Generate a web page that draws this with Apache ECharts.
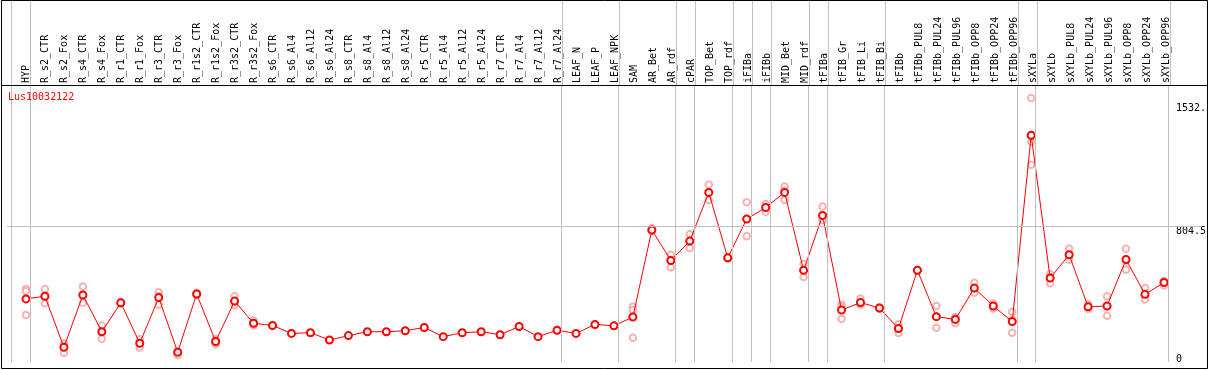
<!DOCTYPE html>
<html><head><meta charset="utf-8">
<script src="https://cdn.jsdelivr.net/npm/echarts@6/dist/echarts.min.js"></script>
<style>html,body{margin:0;padding:0;background:#fff}#c{width:1209px;height:370px}</style>
</head><body><div id="c"></div>
<script>
const geneName = 'Lus10032122';
const categories = ['HYP','R_s2_CTR','R_s2_Fox','R_s4_CTR','R_s4_Fox','R_r1_CTR','R_r1_Fox','R_r3_CTR','R_r3_Fox','R_r1s2_CTR','R_r1s2_Fox','R_r3s2_CTR','R_r3s2_Fox','R_s6_CTR','R_s6_Al4','R_s6_Al12','R_s6_Al24','R_s8_CTR','R_s8_Al4','R_s8_Al12','R_s8_Al24','R_r5_CTR','R_r5_Al4','R_r5_Al12','R_r5_Al24','R_r7_CTR','R_r7_Al4','R_r7_Al12','R_r7_Al24','LEAF_N','LEAF_P','LEAF_NPK','SAM','AR_Bet','AR_rdf','cPAR','TOP_Bet','TOP_rdf','iFIBa','iFIBb','MID_Bet','MID_rdf','tFIBa','tFIB_Gr','tFIB_Li','tFIB_Bi','tFIBb','tFIBb_PUL8','tFIBb_PUL24','tFIBb_PUL96','tFIBb_OPP8','tFIBb_OPP24','tFIBb_OPP96','sXYLa','sXYLb','sXYLb_PUL8','sXYLb_PUL24','sXYLb_PUL96','sXYLb_OPP8','sXYLb_OPP24','sXYLb_OPP96'];
const meanValues = [373,389,87,396,179,350,111,381,58,402,121,360,229,216,169,173,130,156,179,179,185,204,150,173,179,161,210,150,188,169,222,214,266,781,600,715,1003,616,845,913,1003,542,867,307,352,319,198,542,268,252,437,331,239,1341,496,634,326,331,606,400,470];
const N = null;
const rep1 = [433,431,111,447,216,355,134,412,62,410,136,389,245,N,N,N,N,N,N,N,N,N,N,N,N,N,N,N,N,N,N,N,326,793,634,756,1049,620,944,934,1038,579,919,338,375,322,223,546,331,264,468,346,296,1561,521,670,340,389,670,437,478];
const rep2 = [420,389,95,396,181,350,112,392,45,398,121,357,226,N,N,N,N,N,N,N,N,N,N,N,N,N,N,N,N,N,N,N,307,776,605,715,1003,616,847,917,1013,544,844,328,343,320,200,542,271,263,433,330,248,1302,502,627,325,330,602,394,479];
const rep3 = [278,348,54,350,138,345,86,338,41,398,105,334,216,N,N,N,N,N,N,N,N,N,N,N,N,N,N,N,N,N,N,N,144,774,561,674,958,612,744,888,958,503,838,255,338,315,171,538,202,229,410,317,173,1166,465,605,313,274,546,369,453];
// group separators are drawn just after these category indices
const groupEnds = [-1,0,28,31,34,35,37,38,39,41,42,45,52,53,60];
const yTickValues = [0, 804.5, 1532];
const yTickLabels = ['0', '804.5', '1532.'];

const FONT = "'DejaVu Sans Mono', monospace";
const X_MIN = -1, X_MAX = 62;
const SEP_OFFSET = 4.5 / 19;
const sepLines = groupEnds.map(i => ({ xAxis: i + SEP_OFFSET }));
const toPairs = arr => arr.map((v, i) => v == null ? null : [i, v]).filter(d => d);
const sepStyle = { color: '#c0c0c0', width: 1, type: 'solid' };

const repSeries = [rep1, rep2, rep3].map(r => ({
  type: 'scatter', xAxisIndex: 0, yAxisIndex: 0, z: 2,
  symbol: 'emptyCircle', symbolSize: 6.5,
  itemStyle: { color: '#f2a0a0', borderWidth: 1 },
  data: toPairs(r), silent: true
}));

const chart = echarts.init(document.getElementById('c'), null, { renderer: 'canvas' });
chart.setOption({
  animation: false,
  backgroundColor: '#ffffff',
  title: { text: geneName, left: 8, top: 92, padding: 0,
    textStyle: { color: '#ff0000', fontFamily: FONT, fontSize: 10, fontWeight: 'normal', lineHeight: 10 } },
  grid: [
    { left: 7, width: 1197, top: 85, height: 281 },
    { left: 7, width: 1197, top: 0, height: 85 }
  ],
  xAxis: [
    { gridIndex: 0, type: 'value', min: X_MIN, max: X_MAX, show: false },
    { gridIndex: 1, type: 'value', min: X_MIN, max: X_MAX, interval: 1, position: 'bottom',
      axisLine: { show: false }, axisTick: { show: false }, splitLine: { show: false },
      axisLabel: { inside: true, rotate: 90, margin: 2, fontFamily: FONT, fontSize: 10, color: '#000',
        showMinLabel: true, showMaxLabel: true,
        formatter: v => categories[Math.round(v)] || '' } }
  ],
  yAxis: [
    { gridIndex: 0, type: 'value', min: 0, max: 1638, position: 'right',
      axisLine: { show: false }, axisTick: { show: false }, splitLine: { show: false },
      axisLabel: { inside: true, margin: 26, align: 'left', customValues: yTickValues,
        formatter: v => {
          let k = 0;
          yTickValues.forEach((t, i) => { if (Math.abs(t - v) < Math.abs(yTickValues[k] - v)) k = i; });
          return (k === 0 ? '{b|' : '{t|') + yTickLabels[k] + '}';
        },
        rich: {
          t: { fontFamily: FONT, fontSize: 10, lineHeight: 10, color: '#000', padding: [10, 0, 0, 0] },
          b: { fontFamily: FONT, fontSize: 10, lineHeight: 10, color: '#000', padding: [0, 0, 6, 0] }
        } } },
    { gridIndex: 1, type: 'value', min: 0, max: 1, show: false }
  ],
  series: [
    { type: 'line', xAxisIndex: 0, yAxisIndex: 0, z: 1, data: [[X_MIN, -100]], symbol: 'none', silent: true,
      lineStyle: { opacity: 0 },
      markLine: { silent: true, symbol: ['none', 'none'], label: { show: false }, lineStyle: sepStyle,
        data: sepLines.concat([{ yAxis: yTickValues[1] }]) } },
    { type: 'line', xAxisIndex: 1, yAxisIndex: 1, z: 1, data: [[X_MIN, -5]], symbol: 'none', silent: true,
      lineStyle: { opacity: 0 },
      markLine: { silent: true, symbol: ['none', 'none'], label: { show: false }, lineStyle: sepStyle,
        data: sepLines } },
    ...repSeries,
    { type: 'line', xAxisIndex: 0, yAxisIndex: 0, z: 3, data: toPairs(meanValues),
      symbol: 'emptyCircle', symbolSize: 7,
      lineStyle: { color: '#ff0000', width: 1 },
      itemStyle: { color: '#ff0000', borderWidth: 1.5 } }
  ],
  graphic: [
    { type: 'rect', z: 100, silent: true, shape: { x: 1.5, y: 0.5, width: 1206, height: 368 },
      style: { fill: 'none', stroke: '#000', lineWidth: 1 } },
    { type: 'line', z: 100, silent: true, shape: { x1: 1, y1: 85.5, x2: 1208, y2: 85.5 },
      style: { stroke: '#000', lineWidth: 1 } }
  ]
});
</script></body></html>
